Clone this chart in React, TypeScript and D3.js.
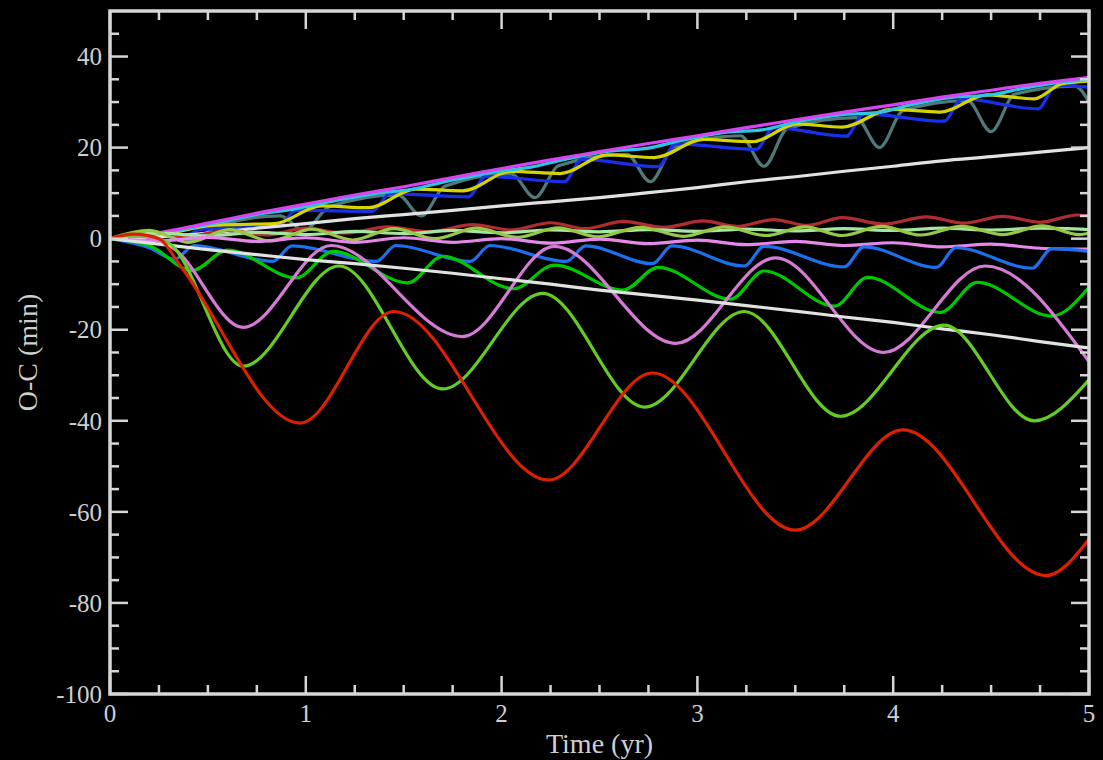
import React from 'react';
import * as d3 from 'd3';

type Pt = [number, number];

// ---- data: O-C (min) vs time (yr) ----
const magentaTop: Pt[] = [[0,0],[0.25,1.3],[0.5,3.4],[0.75,5.6],[1,7.6],[1.25,9.6],[1.5,11.4],[1.75,13.4],[2,15.4],[2.25,17.3],[2.5,19.1],[2.75,20.9],[3,22.6],[3.25,24.4],[3.5,26.1],[3.75,27.8],[4,29.4],[4.25,31.1],[4.5,32.6],[4.75,34.1],[5,35.4]];
const cyanTop: Pt[] = [[0,0],[0.25,1.1],[0.5,3.1],[0.75,5.3],[0.95,6.6],[1.1,7.9],[1.35,9.9],[1.55,10.9],[1.7,12.4],[2,14.9],[2.15,15.7],[2.3,17.2],[2.55,19.2],[2.75,19.9],[2.9,21.4],[3.15,23.4],[3.33,23.9],[3.5,25.6],[3.75,27.3],[3.92,27.7],[4.1,29.5],[4.3,31.0],[4.5,31.6],[4.65,32.9],[4.85,34.3],[5,34.9]];
const yellowTop: Pt[] = [[0,0],[0.3,1.3],[0.55,3.0],[0.84,3.3],[1.08,7.2],[1.32,6.8],[1.56,10.9],[1.8,10.5],[2.05,14.8],[2.3,14.3],[2.54,18.4],[2.78,17.8],[3.03,21.8],[3.28,21.3],[3.51,25.2],[3.74,24.5],[3.99,28.4],[4.24,27.8],[4.48,31.6],[4.72,30.7],[4.86,34.0],[5,34.6]];
const blueTop: Pt[] = [[0,0],[0.2,0.6],[0.37,0.3],[0.46,2.0],[0.86,2.7],[0.95,6.2],[1.34,6.0],[1.43,9.9],[1.83,9.2],[1.92,13.7],[2.32,12.5],[2.41,17.4],[2.8,15.8],[2.89,20.8],[3.3,19.6],[3.39,24.4],[3.76,22.5],[3.85,27.4],[4.26,25.8],[4.35,30.7],[4.74,28.5],[4.83,33.6],[5,33.3]];
const slateTop: Pt[] = [[0,0],[0.3,1.0],[0.42,-0.3],[0.55,2.8],[0.87,5.0],[0.99,1.8],[1.12,7.0],[1.47,9.6],[1.59,5.0],[1.71,11.5],[2.05,14.2],[2.17,9.0],[2.29,16.0],[2.64,18.5],[2.76,12.5],[2.88,20.2],[3.22,22.6],[3.34,15.9],[3.46,24.2],[3.81,26.6],[3.93,20.0],[4.05,28.1],[4.38,30.3],[4.5,23.5],[4.62,31.7],[4.93,33.5],[5,30.0]];
const whiteUp: Pt[] = [[0,0],[0.25,0.4],[0.5,1.2],[0.75,2.3],[1,3.3],[1.25,4.4],[1.5,5.3],[1.75,6.2],[2,7.2],[2.25,8.1],[2.5,9.0],[2.75,10.1],[3,11.2],[3.25,12.5],[3.5,13.6],[3.75,14.8],[4,15.9],[4.25,17.1],[4.5,18.0],[4.75,19.0],[5,20.0]];
const darkRed: Pt[] = [[0,0],[0.2,1.5],[0.4,0.5],[0.6,1.8],[0.8,0.8],[1.0,2.3],[1.2,1.2],[1.42,2.6],[1.63,1.5],[1.85,3.1],[2.05,1.9],[2.25,3.5],[2.43,2.2],[2.62,3.8],[2.83,2.5],[3.03,3.9],[3.2,2.7],[3.39,4.2],[3.56,2.9],[3.74,4.6],[3.95,3.2],[4.17,4.8],[4.36,3.4],[4.56,4.9],[4.75,3.6],[4.94,5.2],[5,5.0]];
const paleGreen: Pt[] = [[0,0],[0.25,1.2],[0.5,0.6],[0.75,1.4],[1,0.9],[1.25,1.6],[1.5,1.1],[1.75,1.8],[2,1.3],[2.25,1.9],[2.5,1.5],[2.75,2.0],[3,1.6],[3.25,2.1],[3.5,1.7],[3.75,2.2],[4,1.8],[4.25,2.3],[4.5,1.9],[4.75,2.3],[5,2.0]];
const smallYellowGreen: Pt[] = [[0,0],[0.2,1.8],[0.4,-0.8],[0.61,2.0],[0.82,-0.5],[1.03,2.1],[1.24,-0.3],[1.45,2.2],[1.66,0],[1.87,2.3],[2.08,0.3],[2.29,2.4],[2.49,0.4],[2.71,2.5],[2.93,0.5],[3.14,2.6],[3.35,0.7],[3.55,2.6],[3.74,0.7],[3.94,2.7],[4.14,0.8],[4.35,2.7],[4.56,0.9],[4.76,2.8],[4.95,0.9],[5,1.2]];
const lightOrchid: Pt[] = [[0,0],[0.25,-0.5],[0.5,0.3],[0.75,-0.6],[1.0,0.2],[1.25,-0.8],[1.5,0.2],[1.75,-0.8],[2.0,0],[2.25,-1.0],[2.5,-0.1],[2.75,-1.1],[3.0,-0.3],[3.25,-1.3],[3.5,-0.6],[3.75,-1.5],[4.0,-0.9],[4.25,-1.8],[4.5,-1.2],[4.75,-2.1],[5,-2.3]];
const dodgerBlue: Pt[] = [[0,0],[0.2,-2],[0.33,-4.5],[0.43,-1.5],[0.83,-5],[0.93,-1.6],[1.36,-5],[1.46,-1.5],[1.84,-5],[1.94,-1.5],[2.33,-5],[2.43,-1.6],[2.77,-5.5],[2.87,-1.6],[3.24,-6],[3.34,-1.7],[3.75,-6.2],[3.85,-1.8],[4.22,-6.3],[4.32,-2],[4.71,-6.5],[4.81,-2.2],[5,-2.8]];
const green: Pt[] = [[0,0],[0.2,-1.5],[0.42,-7],[0.6,-2.5],[0.95,-8.6],[1.14,-2.8],[1.52,-9.7],[1.7,-3.9],[2.06,-11],[2.27,-5.8],[2.62,-11.3],[2.80,-6.3],[3.17,-13.3],[3.34,-7.1],[3.70,-14.8],[3.87,-8.5],[4.24,-16.2],[4.43,-9.6],[4.81,-17],[5,-10.7]];
const orchid: Pt[] = [[0,0],[0.15,0.5],[0.32,-2],[0.68,-19.5],[1.13,-1.5],[1.8,-21.5],[2.27,-1.7],[2.89,-23],[3.4,-4.2],[3.95,-25],[4.47,-6],[5,-27]];
const whiteDown: Pt[] = [[0,0],[0.25,-1.2],[0.5,-2.4],[0.75,-3.5],[1,-4.6],[1.25,-5.5],[1.5,-6.5],[1.75,-7.6],[2,-8.8],[2.25,-10],[2.5,-11.3],[2.75,-12.4],[3,-13.5],[3.25,-14.7],[3.5,-15.9],[3.75,-17.2],[4,-18.4],[4.25,-19.8],[4.5,-21.1],[4.75,-22.6],[5,-24]];
const yellowGreen: Pt[] = [[0,0],[0.15,0.8],[0.3,-1],[0.68,-28],[1.17,-6],[1.70,-33],[2.21,-12],[2.73,-37],[3.24,-16],[3.73,-39],[4.26,-19],[4.72,-40],[5,-31]];
const red: Pt[] = [[0,0],[0.12,1],[0.25,0],[0.36,-6],[0.97,-40.5],[1.45,-16],[2.24,-53],[2.77,-29.5],[3.5,-64],[4.05,-42],[4.78,-74],[5,-66]];

const SERIES: { data: Pt[]; color: string }[] = [
  { data: slateTop, color: '#4e7a7c' },
  { data: blueTop, color: '#1830ea' },
  { data: yellowTop, color: '#d4d400' },
  { data: cyanTop, color: '#2cc6e4' },
  { data: magentaTop, color: '#d844f0' },
  { data: whiteUp, color: '#e2e2e2' },
  { data: darkRed, color: '#b02c30' },
  { data: paleGreen, color: '#a4e6a0' },
  { data: smallYellowGreen, color: '#96c846' },
  { data: lightOrchid, color: '#e488ea' },
  { data: dodgerBlue, color: '#1c70ee' },
  { data: green, color: '#00c800' },
  { data: orchid, color: '#d67ad8' },
  { data: whiteDown, color: '#e2e2e2' },
  { data: yellowGreen, color: '#64cc24' },
  { data: red, color: '#dc2000' },
];

const X_MAJOR = [0, 1, 2, 3, 4, 5];
const Y_MAJOR = [-100, -80, -60, -40, -20, 0, 20, 40];
const X_TITLE = 'Time (yr)';
const Y_TITLE = 'O-C (min)';

export default function App() {
  const W = 1103, H = 760;
  const L = 110, R = 1089, T = 11, B = 694;
  const x = d3.scaleLinear().domain([0, 5]).range([L, R]);
  const y = d3.scaleLinear().domain([-100, 50]).range([B, T]);
  const line = d3.line<Pt>().x(d => x(d[0])).y(d => y(d[1])).curve(d3.curveMonotoneX);
  const xMinor = d3.range(0, 5.001, 0.25).filter(v => Math.abs(v - Math.round(v)) > 1e-6);
  const yMinor = d3.range(-100, 50, 5).filter(v => Math.abs(v % 20) > 1e-6);
  const axisColor = '#d6d6d6';
  const textColor = '#cfcfcf';
  const font = '"Liberation Serif", "DejaVu Serif", serif';
  const majorLen = 18, minorLen = 9;

  return (
    <svg width={W} height={H} style={{ position: 'absolute', left: 0, top: 0, display: 'block', background: '#000' }}>
      <rect x={0} y={0} width={W} height={H} fill="#000" />
      <defs>
        <clipPath id="plotclip">
          <rect x={L} y={T} width={R - L} height={B - T} />
        </clipPath>
      </defs>
      <g clipPath="url(#plotclip)" fill="none" strokeWidth={3.2} strokeLinejoin="round" strokeLinecap="round">
        {SERIES.map((s, i) => (
          <path key={i} d={line(s.data) || ''} stroke={s.color} />
        ))}
      </g>
      <g stroke={axisColor} strokeWidth={2.5}>
        {X_MAJOR.map(v => (
          <g key={'xm' + v}>
            <line x1={x(v)} x2={x(v)} y1={B} y2={B - majorLen} />
            <line x1={x(v)} x2={x(v)} y1={T} y2={T + majorLen} />
          </g>
        ))}
        {xMinor.map(v => (
          <g key={'xn' + v}>
            <line x1={x(v)} x2={x(v)} y1={B} y2={B - minorLen} />
            <line x1={x(v)} x2={x(v)} y1={T} y2={T + minorLen} />
          </g>
        ))}
        {Y_MAJOR.map(v => (
          <g key={'ym' + v}>
            <line x1={L} x2={L + majorLen} y1={y(v)} y2={y(v)} />
            <line x1={R} x2={R - majorLen} y1={y(v)} y2={y(v)} />
          </g>
        ))}
        {yMinor.map(v => (
          <g key={'yn' + v}>
            <line x1={L} x2={L + minorLen} y1={y(v)} y2={y(v)} />
            <line x1={R} x2={R - minorLen} y1={y(v)} y2={y(v)} />
          </g>
        ))}
      </g>
      <rect x={L} y={T} width={R - L} height={B - T} fill="none" stroke={axisColor} strokeWidth={3.5} />
      <g fill={textColor} fontFamily={font} fontSize={25}>
        {Y_MAJOR.map(v => (
          <text key={'yl' + v} x={L - 8} y={y(v)} dy="0.35em" textAnchor="end">{String(v)}</text>
        ))}
        {X_MAJOR.map(v => (
          <text key={'xl' + v} x={x(v)} y={B + 28} textAnchor="middle">{String(v)}</text>
        ))}
      </g>
      <text x={(L + R) / 2} y={753} textAnchor="middle" fill={textColor} fontFamily={font} fontSize={28}>{X_TITLE}</text>
      <text transform={`translate(37,${(T + B) / 2}) rotate(-90)`} textAnchor="middle" fill={textColor} fontFamily={font} fontSize={28}>{Y_TITLE}</text>
    </svg>
  );
}
